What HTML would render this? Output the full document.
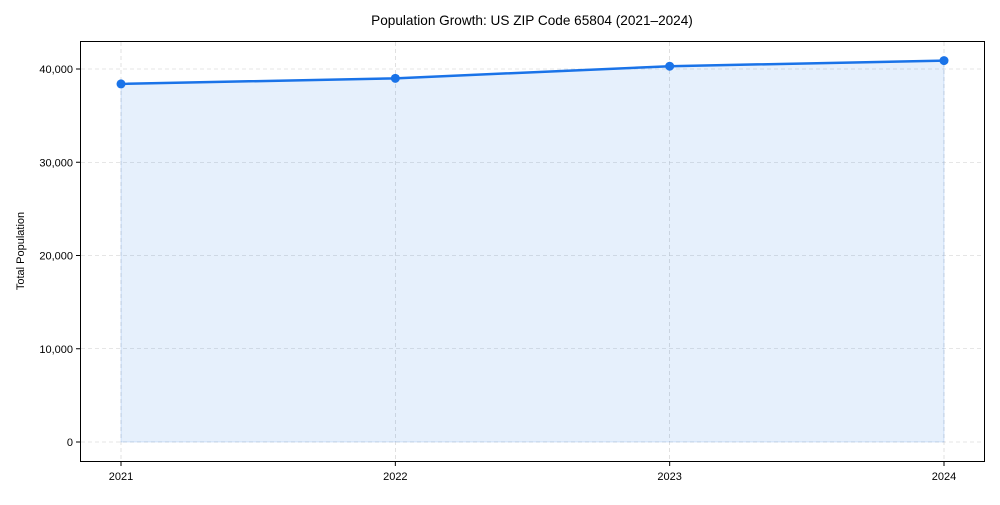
<!DOCTYPE html>
<html><head><meta charset="utf-8"><style>
body{margin:0;background:#fff;font-family:"Liberation Sans",Arial,sans-serif;}
svg text{font-family:"Liberation Sans",Arial,sans-serif;fill:#000;}
</style></head><body>
<svg id="chart" width="1000" height="500" xmlns="http://www.w3.org/2000/svg">
<text x="532" y="25" font-size="13.6" text-anchor="middle">Population Growth: US ZIP Code 65804 (2021–2024)</text>
<text transform="translate(24,251) rotate(-90)" font-size="11" text-anchor="middle">Total Population</text>
<g id="grid"></g><g id="area"></g><g id="line"></g><g id="ticks"></g>
<rect x="80.5" y="41.5" width="904" height="420" fill="none" stroke="#000" stroke-width="1"/>
</svg>
<script>
const years=["2021","2022","2023","2024"];
const population=[38400,39000,40300,40900];
const yTicks=[0,10000,20000,30000,40000];
const yTickLabels=["0","10,000","20,000","30,000","40,000"];
const ns="http://www.w3.org/2000/svg";
function xS(i){return 121+i*(944-121)/(years.length-1);}
function yS(v){return 442-v*(442-69)/40000;}
function mk(t,a,p){const e=document.createElementNS(ns,t);for(const k in a)e.setAttribute(k,a[k]);p.appendChild(e);return e;}
const grid=document.getElementById('grid'),ticks=document.getElementById('ticks');
yTicks.forEach((v,i)=>{
 const g=mk('line',{x1:81,x2:984,y1:yS(v),y2:yS(v),stroke:'#ccc','stroke-dasharray':'4 3','stroke-width':0.6},grid);
 
 
 mk('line',{x1:76,x2:80,y1:yS(v),y2:yS(v),stroke:'#000'},ticks);
 const t=mk('text',{x:73,y:yS(v)+4,'font-size':11,'text-anchor':'end'},ticks);t.textContent=yTickLabels[i];
 
 
});
years.forEach((y,i)=>{
 const g=mk('line',{x1:xS(i),x2:xS(i),y1:42,y2:461,stroke:'#ccc','stroke-dasharray':'4 3','stroke-width':0.6},grid);
 
 
 mk('line',{x1:xS(i),x2:xS(i),y1:462,y2:466,stroke:'#000'},ticks);
 const t=mk('text',{x:xS(i),y:480,'font-size':11,'text-anchor':'middle'},ticks);t.textContent=y;
 
 
});
let d='M'+xS(0)+','+yS(0);
population.forEach((v,i)=>d+=' L'+xS(i)+','+yS(v));
d+=' L'+xS(population.length-1)+','+yS(0)+' Z';
const a=mk('path',{d:d,fill:'#1a73e8','fill-opacity':0.11,stroke:'#1a73e8','stroke-opacity':0.15},document.getElementById('area'));


const ln=document.getElementById('line');
const pl=mk('polyline',{points:population.map((v,i)=>xS(i)+','+yS(v)).join(' '),fill:'none',stroke:'#1a73e8','stroke-width':2.5},ln);


population.forEach((v,i)=>{
 const c=mk('circle',{cx:xS(i),cy:yS(v),r:4.5,fill:'#1a73e8'},ln);
 
 
});
</script>
</body></html>
